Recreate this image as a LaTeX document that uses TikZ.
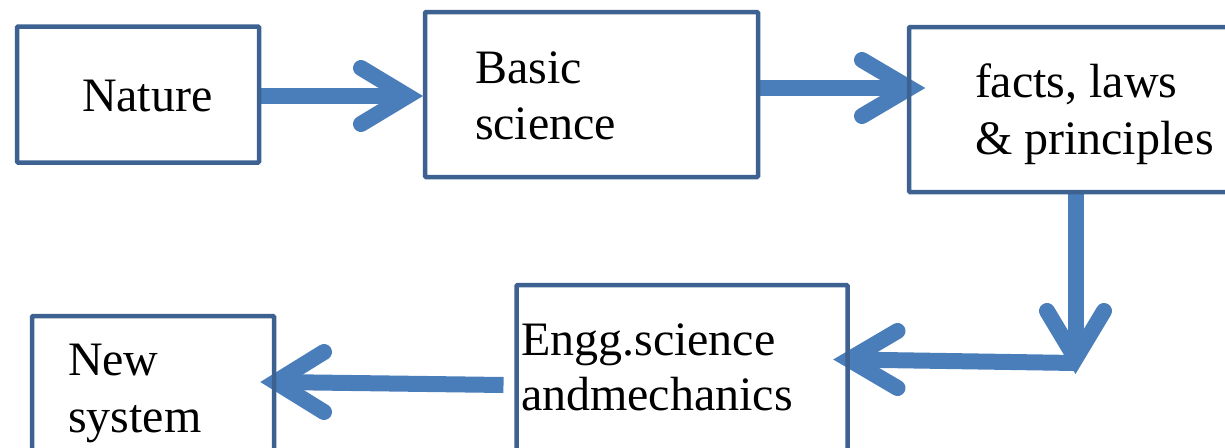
\documentclass[tikz,border=0pt]{standalone}
\usepackage{fontspec}
\setmainfont{Liberation Serif}
\usetikzlibrary{calc,backgrounds}
\definecolor{arrowblue}{HTML}{4A7EBB}
\definecolor{boxblue}{HTML}{3D6292}
\begin{document}
\begin{tikzpicture}[x=1pt,y=-1pt,
  box/.style={draw=boxblue, line width=4.5pt, rounded corners=1pt, inner sep=0pt, outer sep=0pt, anchor=north west},
  txt/.style={font=\fontsize{48}{57}\selectfont, inner sep=0pt, outer sep=0pt, anchor=base west},
  shaft/.style={draw=arrowblue, line width=16pt},
  head/.style={draw=arrowblue, line width=16pt, line cap=round, line join=miter}]
\useasboundingbox (0,0) rectangle (1225,447);
% boxes
\node[box, minimum width=242pt, minimum height=136pt] (nature) at (17,26.5) {};
\node[box, minimum width=333pt, minimum height=165pt] (basic) at (425,12) {};
\node[box, minimum width=340pt, minimum height=165pt] (facts) at (909,27) {};
\node[box, minimum width=331pt, minimum height=180pt] (engg) at (516.5,285) {};
\node[box, minimum width=242pt, minimum height=150pt] (newsys) at (32,316) {};
% texts
\node[txt] (natureT) at (82,111.5) {Nature};
\node[txt] (basicT1) at (475,83) {Basic};
\node[txt] (basicT2) at (475,139.5) {science};
\node[txt] (factsT1) at (975,97) {facts, laws};
\node[txt] (factsT2) at (975,154) {\& principles};
\node[txt] (enggT1) at (521,355) {Engg.science};
\node[txt] (enggT2) at (521,410) {andmechanics};
\node[txt] (newT1) at (68,375) {New};
\node[txt] (newT2) at (68,432) {system};
% arrows (behind the boxes)
\begin{scope}[on background layer]
  % tips
  \coordinate (t1) at ($(basic.west |- 0,96)+(-2,0)$);
  \coordinate (t2) at ($(facts.west |- 0,88)+(16,0)$);
  \coordinate (t3) at (1075.5,374);
  \coordinate (t4) at ($(engg.east |- 0,359.5)+(-14,0)$);
  \coordinate (t5) at ($(newsys.east |- 0,382)+(-14,0)$);
  % Nature -> Basic science
  \draw[shaft] (nature.east |- 0,96) -- ($(t1)+(-16,0)$);
  \draw[head] ($(t1)+(-62,-28)$) -- ($(t1)+(-15.5,0)$) -- ($(t1)+(-62,28)$);
  % Basic science -> facts
  \draw[shaft] (basic.east |- 0,88) -- ($(t2)+(-16,0)$);
  \draw[head] ($(t2)+(-63,-28)$) -- ($(t2)+(-15.5,0)$) -- ($(t2)+(-63,28)$);
  % facts -> down
  \draw[shaft] (facts.south -| t3) -- ($(t3)+(0,-16)$);
  \draw[head] ($(t3)+(-28.5,-63)$) -- ($(t3)+(0,-15.5)$) -- ($(t3)+(28.5,-63)$);
  % -> Engg
  \draw[shaft] ($(t3)+(0,-11)$) -- ($(t4)+(16,0)$);
  \draw[head] ($(t4)+(64,-28.5)$) -- ($(t4)+(15.5,0)$) -- ($(t4)+(64,28.5)$);
  % Engg -> New system
  \draw[shaft] ($(engg.west |- 0,385)+(-13,0)$) -- ($(t5)+(16,0)$);
  \draw[head] ($(t5)+(64,-30)$) -- ($(t5)+(15.5,0)$) -- ($(t5)+(64,30)$);
\end{scope}
\end{tikzpicture}
\end{document}
